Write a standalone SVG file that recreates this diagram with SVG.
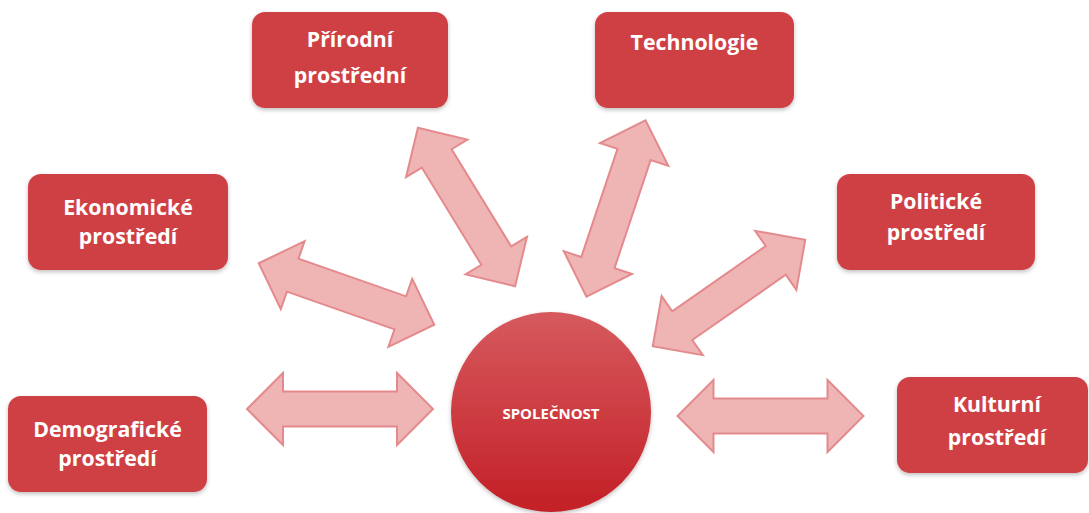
<svg xmlns="http://www.w3.org/2000/svg" xmlns:xlink="http://www.w3.org/1999/xlink" width="1089" height="513" viewBox="0 0 1089 513">
  <defs>
    <style>
      .box { fill: #cf4045; filter: url(#shadow); }
      .label { fill: #ffffff; font-family: "Open Sans", "Liberation Sans", sans-serif; font-weight: 700; font-size: 21.3px; text-anchor: middle; }
      .hub-label { fill: #ffffff; font-family: "Open Sans", "Liberation Sans", sans-serif; font-weight: 700; font-size: 15px; text-anchor: middle; }
      .dbl { fill: #efb4b4; stroke: #e48a8d; stroke-width: 2; stroke-linejoin: miter; }
    </style>
    <linearGradient id="hubFill" x1="0" y1="0" x2="0" y2="1">
      <stop offset="0" stop-color="#d65a5e"/>
      <stop offset="1" stop-color="#c31f26"/>
    </linearGradient>
    <filter id="shadow" x="-10%" y="-10%" width="120%" height="130%">
      <feDropShadow dx="0" dy="2" stdDeviation="2" flood-color="#000" flood-opacity="0.25"/>
    </filter>
    <!-- double-headed block arrow, centred on the origin, pointing along x -->
    <path id="dbl" class="dbl" d="M-93,0 L-57,-36 L-57,-17.5 L57,-17.5 L57,-36 L93,0 L57,36 L57,17.5 L-57,17.5 L-57,36 Z"/>
  </defs>

  <rect width="1089" height="513" fill="#ffffff"/>

  <g id="connectors">
    <use xlink:href="#dbl" transform="translate(340,409)"/>
    <use xlink:href="#dbl" transform="translate(770.5,416)"/>
    <use xlink:href="#dbl" transform="translate(346.5,294) rotate(19.3)"/>
    <use xlink:href="#dbl" transform="translate(466.5,207) rotate(58.5)"/>
    <use xlink:href="#dbl" transform="translate(616,208.5) rotate(-71.5)"/>
    <use xlink:href="#dbl" transform="translate(729,293) rotate(-34.9)"/>
  </g>

  <g id="node-prirodni">
    <rect class="box" x="252" y="12" width="196" height="96" rx="13"/>
    <text class="label" x="350" y="47">Přírodní</text>
    <text class="label" x="350" y="83">prostřední</text>
  </g>

  <g id="node-technologie">
    <rect class="box" x="595" y="12" width="199" height="96" rx="13"/>
    <text class="label" x="694.5" y="50">Technologie</text>
  </g>

  <g id="node-ekonomicke">
    <rect class="box" x="28" y="174" width="200" height="96" rx="13"/>
    <text class="label" x="128" y="215">Ekonomické</text>
    <text class="label" x="128" y="244">prostředí</text>
  </g>

  <g id="node-politicke">
    <rect class="box" x="837" y="174" width="198" height="96" rx="13"/>
    <text class="label" x="936" y="209">Politické</text>
    <text class="label" x="936" y="240">prostředí</text>
  </g>

  <g id="node-demograficke">
    <rect class="box" x="8" y="396" width="199" height="96" rx="13"/>
    <text class="label" x="107.5" y="437">Demografické</text>
    <text class="label" x="107.5" y="466">prostředí</text>
  </g>

  <g id="node-kulturni">
    <rect class="box" x="897" y="377" width="191" height="96" rx="13"/>
    <text class="label" x="997" y="412">Kulturní</text>
    <text class="label" x="997" y="445">prostředí</text>
  </g>

  <g id="node-spolecnost">
    <circle cx="551" cy="412" r="100" fill="url(#hubFill)" filter="url(#shadow)"/>
    <text class="hub-label" x="551" y="419">SPOLEČNOST</text>
  </g>
</svg>
